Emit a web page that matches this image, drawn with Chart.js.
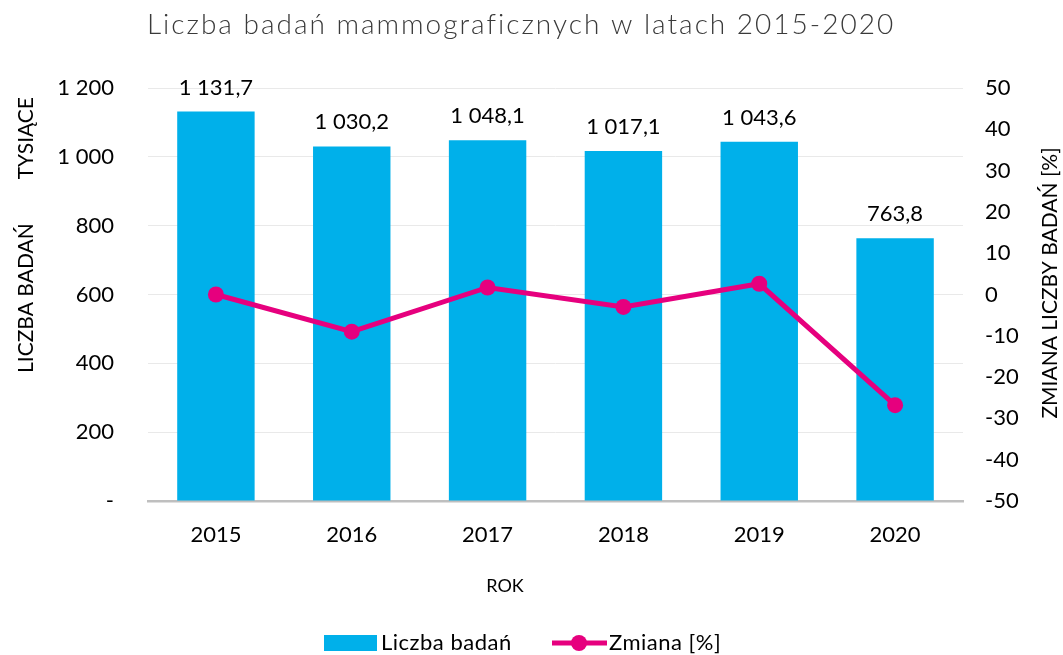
<!DOCTYPE html>
<html>
<head>
<meta charset="utf-8">
<script src="https://cdn.jsdelivr.net/npm/chart.js@4/dist/chart.umd.min.js"></script>
<style>
  html, body { margin: 0; padding: 0; background: #fff; }
  #wrap { width: 1063px; height: 655px; }
</style>
</head>
<body>
<div id="wrap"><canvas id="chart"></canvas></div>
<script>
// data
const years = ["2015", "2016", "2017", "2018", "2019", "2020"];
const examsThousands = [1131.7, 1030.2, 1048.1, 1017.1, 1043.6, 763.8];
const changePercent = [0, -9.0, 1.7, -3.0, 2.6, -26.8];

const FONT = "Lato, 'Open Sans', sans-serif";
const BLUE = "#00B0EA";
const PINK = "#E6007E";

// "1 131,7" style
function plNum(v, dec) {
  let s = dec ? v.toFixed(dec) : String(v);
  let parts = s.split(".");
  parts[0] = parts[0].replace(/\B(?=(\d{3})+(?!\d))/g, " ");
  return parts.join(",");
}

// titles, bar labels and legend drawn by hand
const extras = {
  id: "extras",
  afterDraw(chart) {
    const ctx = chart.ctx;
    ctx.save();

    // chart title
    ctx.fillStyle = "#3a3a3a";
    ctx.font = "300 28px " + FONT;
    ctx.letterSpacing = "2px";
    ctx.textAlign = "center";
    ctx.textBaseline = "middle";
    ctx.fillText("Liczba badań mammograficznych w latach 2015-2020", 521, 25);
    ctx.letterSpacing = "0px";

    // value labels above bars
    ctx.fillStyle = "#000";
    ctx.font = "22px " + FONT;
    ctx.textBaseline = "alphabetic";
    const bars = chart.getDatasetMeta(1).data;
    bars.forEach((b, i) => {
      ctx.fillText(plNum(examsThousands[i], 1), b.x, b.y - 17);
    });

    // x axis title
    ctx.font = "18px " + FONT;
    ctx.textBaseline = "middle";
    ctx.fillText("ROK", 505, 586);

    // left axis title (reads bottom to top)
    ctx.font = "21px " + FONT;
    ctx.save();
    ctx.translate(26, 373);
    ctx.rotate(-Math.PI / 2);
    ctx.textAlign = "left";
    ctx.fillText("LICZBA BADAŃ", 0, 0);
    ctx.textAlign = "right";
    ctx.fillText("TYSIĄCE", 276, 0);
    ctx.restore();

    // right axis title
    ctx.save();
    ctx.translate(1050, 283);
    ctx.rotate(-Math.PI / 2);
    ctx.textAlign = "center";
    ctx.fillText("ZMIANA LICZBY BADAŃ [%]", 0, 0);
    ctx.restore();

    // legend
    const ly = 643;
    ctx.font = "22px " + FONT;
    ctx.letterSpacing = "0.5px";
    ctx.fillStyle = BLUE;
    ctx.fillRect(324, ly - 8, 53, 16);
    ctx.fillStyle = "#000";
    ctx.textAlign = "left";
    ctx.fillText(chart.data.datasets[1].label, 381, ly);
    ctx.strokeStyle = PINK;
    ctx.lineWidth = 5;
    ctx.beginPath();
    ctx.moveTo(552, ly);
    ctx.lineTo(607, ly);
    ctx.stroke();
    ctx.fillStyle = PINK;
    ctx.beginPath();
    ctx.arc(579, ly, 8, 0, Math.PI * 2);
    ctx.fill();
    ctx.fillStyle = "#000";
    ctx.fillText(chart.data.datasets[0].label, 609, ly);

    ctx.restore();
  }
};

new Chart(document.getElementById("chart"), {
  type: "bar",
  data: {
    labels: years,
    datasets: [
      {
        type: "line",
        label: "Zmiana [%]",
        data: changePercent,
        yAxisID: "y1",
        borderColor: PINK,
        backgroundColor: PINK,
        borderWidth: 5,
        pointRadius: 8,
        pointBackgroundColor: PINK,
        pointBorderWidth: 0,
        tension: 0,
        order: 1,
      },
      {
        label: "Liczba badań",
        data: examsThousands,
        yAxisID: "y",
        backgroundColor: BLUE,
        barPercentage: 0.57,
        categoryPercentage: 1,
        order: 2,
      },
    ],
  },
  options: {
    responsive: true,
    maintainAspectRatio: false,
    animation: false,
    layout: { padding: { top: 88, left: 0, right: 0, bottom: 0 } },
    plugins: {
      legend: { display: false },
      title: { display: false },
      tooltip: { enabled: false },
    },
    scales: {
      x: {
        afterFit(s) { s.height = 154; },
        grid: { display: false, drawTicks: false },
        border: { color: "#BFBFBF", width: 2.5 },
        ticks: { color: "#000", font: { family: FONT, size: 22 }, padding: 21 },
      },
      y: {
        position: "left",
        min: 0,
        max: 1200,
        afterFit(s) { s.width = 148; },
        grid: { color: "#E9E9E9", lineWidth: 1, drawTicks: false },
        border: { display: false },
        ticks: {
          stepSize: 200,
          padding: 34,
          color: "#000",
          font: { family: FONT, size: 22 },
          callback: (v) => (v === 0 ? "-" : plNum(v)),
        },
      },
      y1: {
        position: "right",
        min: -50,
        max: 50,
        afterFit(s) { s.width = 100; },
        grid: { display: false, drawTicks: false },
        border: { display: false },
        ticks: {
          stepSize: 10,
          padding: 22,
          color: "#000",
          font: { family: FONT, size: 22 },
        },
      },
    },
  },
  plugins: [extras],
});
</script>
</body>
</html>
